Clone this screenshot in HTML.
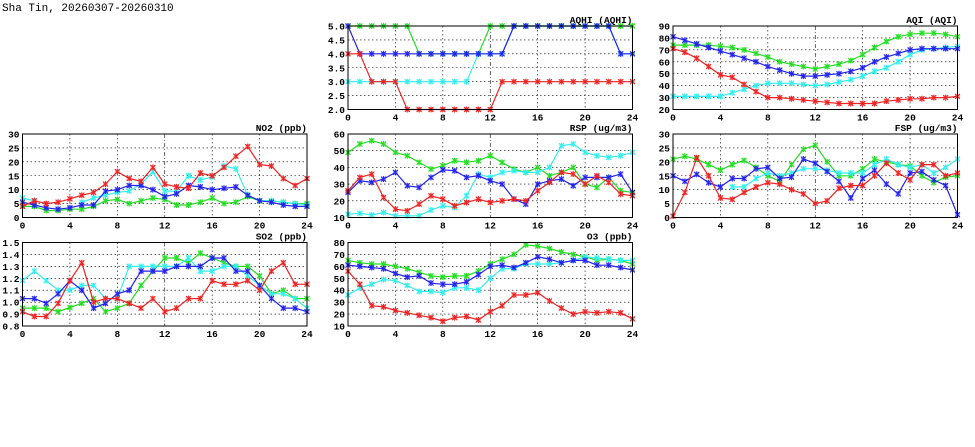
<!DOCTYPE html>
<html><head><meta charset="utf-8">
<style>
html,body{margin:0;padding:0;background:#fff;}
#c{position:absolute;left:0;top:0;}
</style></head>
<body>
<svg id="c" width="975" height="447" xmlns="http://www.w3.org/2000/svg" font-family="Liberation Mono, monospace">
<text x="2" y="11" font-size="11" fill="#000">Sha Tin, 20260307-20260310</text>
</svg>
<script>
var svg=document.getElementById('c');
var NS='http://www.w3.org/2000/svg';
function el(t,a,p){var e=document.createElementNS(NS,t);for(var k in a)e.setAttribute(k,a[k]);(p||svg).appendChild(e);return e;}
var C={g:'#22dd22',c:'#33eeee',b:'#2222ee',r:'#ee2222'};
var N=null;
var panels=[
{x:348,y:26,t:'AQHI (AQHI)',min:2,max:5,step:0.5,fmt:1,s:{
g:[5,5,5,5,5,5,4,4,4,4,4,4,5,5,5,5,5,5,5,5,5,5,5,5,5],
c:[3,3,3,3,3,3,3,3,3,3,3,4,4,4,5,5,5,5,5,5,5,5,5,4,4],
b:[5,4,4,4,4,4,4,4,4,4,4,4,4,4,5,5,5,5,5,5,5,5,5,4,4],
r:[4,4,3,3,3,2,2,2,2,2,2,2,2,3,3,3,3,3,3,3,3,3,3,3,3]}},
{x:673,y:26,t:'AQI (AQI)',min:20,max:90,step:10,fmt:0,s:{
g:[74,74,74,74,73,72,70,67,64,60,58,56,54,56,58,61,66,72,77,81,83,84,84,83,81],
c:[31,31,31,31,31,34,37,40,42,42,42,41,40,41,43,45,48,52,55,60,66,70,71,72,73],
b:[81,78,75,72,69,66,63,60,56,53,50,48,48,49,50,52,55,60,64,67,70,71,71,71,71],
r:[71,68,63,56,49,47,41,35,30,30,29,28,27,26,25,25,25,25,27,28,29,29,30,30,31]}},
{x:22.5,y:134,t:'NO2 (ppb)',min:0,max:30,step:5,fmt:0,s:{
g:[4,4,2.5,2.5,3,3,4,6,6.5,5,6,7,6.5,4.5,4.5,5.5,7,5,5.5,7.5,6,6,5.5,5,5],
c:[7,6,N,N,N,5.5,7,8,9,9.5,12,16.5,9.5,9.5,15,13.5,14.5,18.5,17.5,8,6,6,5.5,5,4.5],
b:[5.5,4.5,3.5,3,3.5,4.5,4.5,9.5,10,11.5,11.5,10,7.5,8.5,11.5,11,10,10.5,11,8,6,5.5,4.5,4,4],
r:[4,6,5,5.5,6.7,8,9,12,16.5,14,13,18,12,11,10.5,16,15,18,22,25.5,19,18.5,14,11.5,14]}},
{x:348,y:134,t:'RSP (ug/m3)',min:10,max:60,step:10,fmt:0,s:{
g:[49,54,56,54,49,47,43,39,41,44,43,44,47,43,39,37,40,35,37,40,30,28,34,26,25],
c:[12,12.5,11.5,13,11,11,11,14.5,17,16,23,36,34,37,38,37,37,40,53,54,49,47,46,47,49],
b:[25,32,31,33,37,29,28,34,38.5,38,34,35,32,30,21,18,30,32,33,29,34,34,34,36,25],
r:[26,34,36,22,15,14,18,23,21,17,19,21,19,20,21,20,26,31,37,36,30,35,31,24,23]}},
{x:673,y:134,t:'FSP (ug/m3)',min:0,max:30,step:5,fmt:0,s:{
g:[21,22,21,19,17,19,20.5,18,15,13,19,24.5,26,20,15,15,17.5,21,20,19,18.5,15,12.5,14.5,15],
c:[N,N,N,N,N,11,11,14,16,15,16,17.5,17.5,17,16,16,16,19,21,19,18,19,16,18,21],
b:[15,13,15.5,12.5,11,14,14,17.5,18,14,14.5,21,19.5,16.5,13,7,14,17,12,8.5,16,16.5,13.5,11.5,1],
r:[0.5,9,21.5,15,7,6.5,9,11,12.5,12,10,8.5,5,6,10.5,11.5,11.5,15,19.5,16,13.5,19,19,15,16]}},
{x:22.5,y:242.5,t:'SO2 (ppb)',min:0.8,max:1.5,step:0.1,fmt:1,s:{
g:[.95,.95,.95,.92,.955,.99,1.03,.92,.95,.99,1.14,1.26,1.37,1.37,1.33,1.41,1.37,1.33,1.3,1.3,1.22,1.07,1.10,1.03,1.03],
c:[1.18,1.26,1.18,1.10,1.10,1.14,1.14,1.03,1.03,1.3,1.3,1.3,1.3,1.3,1.37,1.26,1.26,1.3,1.3,1.22,1.14,1.07,1.07,1.03,.95],
b:[1.03,1.03,.99,1.07,1.18,1.10,.95,.99,1.07,1.10,1.26,1.26,1.26,1.3,1.3,1.3,1.37,1.37,1.26,1.26,1.14,1.03,.95,.95,.92],
r:[.92,.88,.88,.99,1.18,1.33,1.0,1.03,1.03,.99,.95,1.03,.92,.95,1.03,1.03,1.18,1.15,1.15,1.18,1.1,1.26,1.33,1.15,1.15]}},
{x:348,y:242.5,t:'O3 (ppb)',min:10,max:80,step:10,fmt:0,s:{
g:[65,63,62,62,60,58,55,52,51,52,52,56,62,66,70,78,77,75,72,70,68,65,66,65,62],
c:[36,42,45,49,48,44,39,39,38,42,42,40,50,58,58,62,62,62,63,65,68,67,66,65,65],
b:[61,60,59,58,54,51,52,46,45,45,47,53,60,61,59,63,68,66,63,65,65,61,61,59,57],
r:[56,45,27,26,23,21,19,17,14,17,18,15,22,27,36,36,38,31,25,20,22,21,22,21,16]}}
];
var W=284.5,H=83.5;
panels.forEach(function(p){
  var X=function(i){return p.x+i*W/24;};
  var Y=function(v){return p.y+H-(v-p.min)/(p.max-p.min)*H;};
  var n=Math.round((p.max-p.min)/p.step);
  for(var k=0;k<=n;k++){
    var v=p.min+k*p.step, y=Y(v);
    if(k>0&&k<n) el('line',{x1:p.x,x2:p.x+W,y1:y,y2:y,stroke:'#000','stroke-width':0.6,'stroke-dasharray':'1.5,2.5'});
    el('text',{x:p.x-3,y:y+3.5,'font-size':9.5,'text-anchor':'end','font-weight':'bold'}).textContent=v.toFixed(p.fmt);
  }
  for(var h=0;h<=24;h+=4){
    var x=X(h);
    if(h>0&&h<24) el('line',{x1:x,x2:x,y1:p.y,y2:p.y+H,stroke:'#000','stroke-width':0.6,'stroke-dasharray':h==12?'4,2,1,2':'1.5,2.5'});
    el('text',{x:x,y:p.y+H+11,'font-size':9.5,'text-anchor':'middle','font-weight':'bold'}).textContent=h;
  }
  el('text',{x:p.x+W,y:p.y-3,'font-size':9.5,'text-anchor':'end','font-weight':'bold'}).textContent=p.t;
  ['g','c','b','r'].forEach(function(k){
    var a=p.s[k],d='',pen=false;
    for(var i=0;i<25;i++){ if(a[i]===N){pen=false;continue;} d+=(pen?'L':'M')+X(i).toFixed(1)+','+Y(a[i]).toFixed(1); pen=true;}
    el('path',{d:d,fill:'none',stroke:C[k],'stroke-width':1.2});
    for(var i=0;i<25;i++){ if(a[i]===N)continue; var x=X(i),y=Y(a[i]);
      el('rect',{x:x-2.5,y:y-2.5,width:5,height:5,fill:C[k],'fill-opacity':0.35});
      el('path',{d:'M'+(x-2.5)+','+(y-2.5)+'L'+(x+2.5)+','+(y+2.5)+'M'+(x-2.5)+','+(y+2.5)+'L'+(x+2.5)+','+(y-2.5)+'M'+x+','+(y-3)+'L'+x+','+(y+3),stroke:C[k],'stroke-width':1});
    }
  });
  el('rect',{x:p.x,y:p.y,width:W,height:H,fill:'none',stroke:'#000','stroke-width':1});
});
</script>
</body></html>
